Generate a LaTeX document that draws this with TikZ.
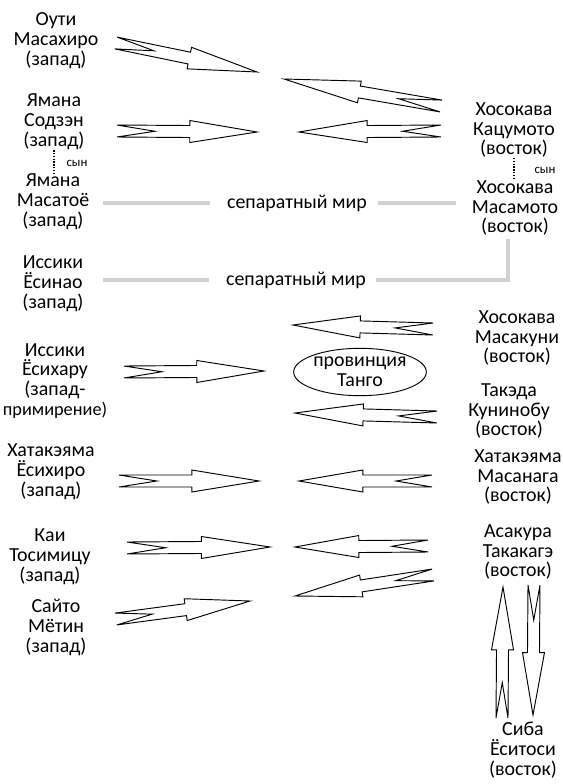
\documentclass[tikz,border=0pt]{standalone}
\usepackage{fontspec}
\setmainfont{Carlito}
\usetikzlibrary{calc}

\newcommand{\zigarrow}[2]{%
  \coordinate (zhead) at ($(#1)!0.52!(#2)$);
  \coordinate (znotch) at ($(#1)!0.27!(#2)$);
  \draw[zigline] ($(#1)!0.18cm!90:(#2)$) -- ($(zhead)!0.18cm!90:(#2)$)
    -- ($(zhead)!0.33cm!90:(#2)$) -- (#2)
    -- ($(zhead)!0.33cm!-90:(#2)$) -- ($(zhead)!0.18cm!-90:(#2)$)
    -- ($(#1)!0.18cm!-90:(#2)$) -- (znotch) -- cycle;
}

\begin{document}
\begin{tikzpicture}[
  x=0.03cm, y=-0.03cm,
  person/.style={
    align=center,
    inner sep=0pt,
    font=\fontsize{17}{17}\selectfont
  },
  son/.style={inner sep=0pt,font=\fontsize{11}{11}\selectfont},
  sonline/.style={line width=1.2pt,dash pattern=on 1.2pt off 1.2pt},
  peace/.style={line width=3.4pt,gray!35},
  zigline/.style={draw=black,fill=white,line width=0.8pt}
]
  \useasboundingbox (0,0) rectangle (563,784);

  \node[person] (uti) at (56,41) {Оути\\Масахиро\\(запад)};
  \node[person] (sodzen) at (54,122) {Ямана\\Содзэн\\(запад)};
  \node[person] (masatoe) at (53,202) {Ямана\\Масатоё\\(запад)};
  \node[person] (esinao) at (53,284) {Иссики\\Ёсинао\\(запад)};
  \node[person] (esiharu) at (55,381) {Иссики\\Ёсихару\\(запад-\\{\fontsize{15.6}{17}\selectfont примирение)}};
  \node[person] (esihiro) at (51,472) {Хатакэяма\\Ёсихиро\\(запад)};
  \node[person] (tosimitsu) at (50,557) {Каи\\Тосимицу\\(запад)};
  \node[person] (metin) at (56,627) {Сайто\\Мётин\\(запад)};

  \node[person] (katsumoto) at (514,130) {Хосокава\\Кацумото\\(восток)};
  \node[person] (masamoto) at (515,208) {Хосокава\\Масамото\\(восток)};
  \node[person] (masakuni) at (517,338) {Хосокава\\Масакуни\\(восток)};
  \node[person] (kuninobu) at (509,411) {Такэда\\Кунинобу\\(восток)};
  \node[person] (masanaga) at (518,477) {Хатакэяма\\Масанага\\(восток)};
  \node[person] (takakage) at (518,552) {Асакура\\Такакагэ\\(восток)};
  \node[person] (esitosi) at (523,750) {Сиба\\Ёситоси\\(восток)};

  \node[person] (tango) at (360,372) {провинция\\Танго};
  \draw[line width=0.8pt] (tango.center) ellipse [x radius=1.99cm,y radius=0.71cm];

  \node[person] (peace1) at (297,203) {сепаратный мир};
  \node[person] (peace2) at (296,280) {сепаратный мир};

  \draw[sonline] (sodzen.south) -- (sodzen.south |- masatoe.north);
  \node[son] (sonleft) at (77,163) {сын};
  \draw[sonline] (katsumoto.south) -- (katsumoto.south |- masamoto.north);
  \node[son] (sonright) at (545,170) {сын};

  \draw[peace,shorten <=12pt,shorten >=14pt] (masatoe.east |- peace1) -- (peace1.west);
  \draw[peace,shorten <=9pt,shorten >=13pt] (peace1.east) -- (peace1.east -| masamoto.west);
  \draw[peace,shorten <=16pt,shorten >=14.5pt] (esinao.east |- peace2) -- (peace2.west);
  \draw[peace,shorten <=8.5pt,shorten >=3pt] (peace2.east) -| ([xshift=-0.21cm]masamoto.south);

  \coordinate (utitail) at (116,43);
  \coordinate (utitip) at (257,72);
  \coordinate (sodzentail) at (117,131);
  \coordinate (sodzentip) at (257,132);
  \coordinate (katsutail) at (441,106);
  \coordinate (katsutip) at (284,79);
  \coordinate (katsutail2) at (441,131);
  \coordinate (katsutip2) at (299,132);
  \coordinate (masakunitail) at (433,329);
  \coordinate (masakunitip) at (293,325);
  \coordinate (esiharutail) at (124,372);
  \coordinate (esiharutip) at (264,371);
  \coordinate (kuninobutail) at (437,417);
  \coordinate (kuninobutip) at (295,413);
  \coordinate (esihirotail) at (119,481);
  \coordinate (esihirotip) at (259,481);
  \coordinate (masanagatail) at (432,481);
  \coordinate (masanagatip) at (299,481);
  \coordinate (tositail) at (127,548);
  \coordinate (tositip) at (270,547);
  \coordinate (takatail) at (428,546);
  \coordinate (takatip) at (295,547);
  \coordinate (takatail2) at (433,575);
  \coordinate (takatip2) at (295,596);
  \coordinate (metintail) at (116,619);
  \coordinate (metintip) at (250,601);
  \coordinate (sibatail) at (502,718);
  \coordinate (sibatip) at (503,587);
  \coordinate (asatail) at (534,585);
  \coordinate (asatip) at (533,715);

  \zigarrow{utitail}{utitip}
  \zigarrow{sodzentail}{sodzentip}
  \zigarrow{katsutail}{katsutip}
  \zigarrow{katsutail2}{katsutip2}
  \zigarrow{masakunitail}{masakunitip}
  \zigarrow{esiharutail}{esiharutip}
  \zigarrow{kuninobutail}{kuninobutip}
  \zigarrow{esihirotail}{esihirotip}
  \zigarrow{masanagatail}{masanagatip}
  \zigarrow{tositail}{tositip}
  \zigarrow{takatail}{takatip}
  \zigarrow{takatail2}{takatip2}
  \zigarrow{metintail}{metintip}
  \zigarrow{sibatail}{sibatip}
  \zigarrow{asatail}{asatip}
\end{tikzpicture}
\end{document}
